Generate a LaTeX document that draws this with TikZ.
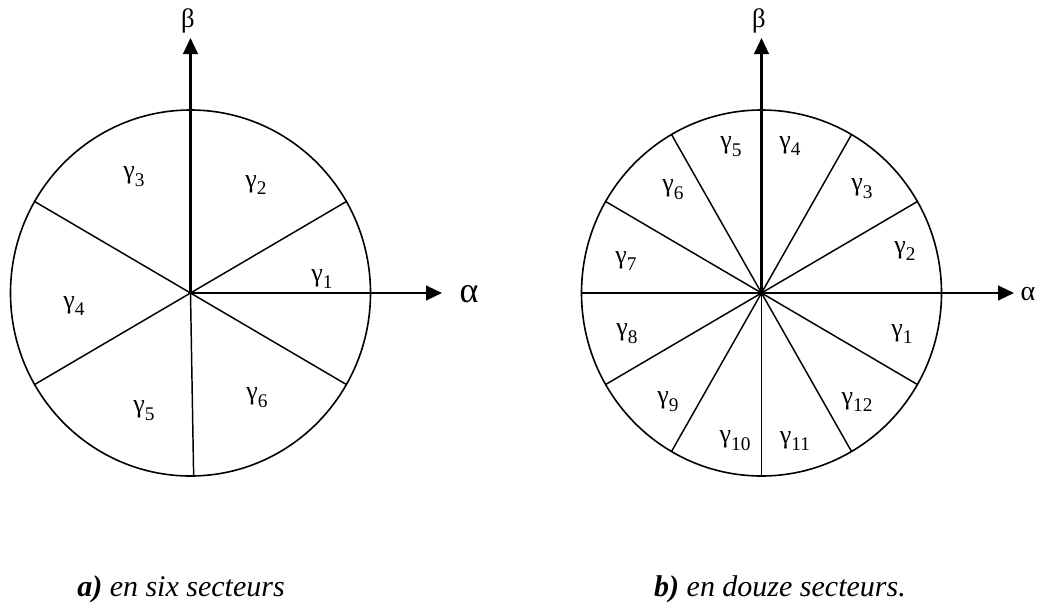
\documentclass[tikz,border=0pt]{standalone}
\usepackage{fontspec}
\setmainfont{Liberation Serif}
\usetikzlibrary{arrows.meta,calc}
\newcommand\gsub[1]{γ\raisebox{-0.3em}{\fontsize{14.5}{14.5}\selectfont #1}}
\tikzset{
  rim/.style={line width=1.2pt},
  sector/.style={line width=1.1pt},
  axis/.style={line width=1.7pt,-{Triangle[length=12pt,width=11pt]}},
  glab/.style={font=\fontsize{19.5}{19.5}\selectfont, inner sep=0pt},
  caption/.style={font=\fontsize{22.5}{22.5}\selectfont, anchor=base, inner sep=0pt}
}
\begin{document}
\begin{tikzpicture}[x=0.75pt,y=-0.75pt]
\useasboundingbox (0,0) rectangle (1041,603);
% ---------- left: six sectors ----------
\coordinate (O1) at (190.5,293);
\draw[rim] (O1) ellipse [x radius=180, y radius=183];
\foreach \a/\n in {30/a,150/b,210/c,330/d,271/e}
  \draw[sector] (O1) -- ($(O1)+(-\a:180 and 183)$) coordinate (L\n);
\coordinate (A1) at (442,293);
\coordinate (B1) at (190.5,38);
\draw[axis] (O1) -- (A1);
\draw[axis] (O1) -- (B1);
\node[font=\fontsize{27}{27}\selectfont, inner sep=0pt] (alpha1) at (469,294) {α};
\node[font=\fontsize{20}{20}\selectfont, inner sep=0pt] (beta1) at (188,21) {β};
\node[glab] (g11) at (322,279) {\gsub{1}};
\node[glab] (g12) at (256,185) {\gsub{2}};
\node[glab] (g13) at (134,177) {\gsub{3}};
\node[glab] (g14) at (74,306) {\gsub{4}};
\node[glab] (g15) at (144,411) {\gsub{5}};
\node[glab] (g16) at (257,398) {\gsub{6}};
\node[caption] (capa) at (181,596) {\textbf{\textit{a)}} \textit{en six secteurs}};
% ---------- right: twelve sectors ----------
\coordinate (O2) at (761.5,293);
\draw[rim] (O2) ellipse [x radius=180, y radius=183];
\foreach \a in {30,60,120,150,180,210,240,270,300,330}
  \draw[sector] (O2) -- ($(O2)+(-\a:180 and 183)$);
\coordinate (A2) at (1014,293);
\coordinate (B2) at (761.5,38);
\draw[axis] (O2) -- (A2);
\draw[axis] (O2) -- (B2);
\node[font=\fontsize{21}{21}\selectfont, inner sep=0pt] (alpha2) at (1028,294) {α};
\node[font=\fontsize{20}{20}\selectfont, inner sep=0pt] (beta2) at (759,21) {β};
\node[glab] (g21) at (902,334) {\gsub{1}};
\node[glab] (g22) at (905,251) {\gsub{2}};
\node[glab] (g23) at (862,189) {\gsub{3}};
\node[glab] (g24) at (790,146) {\gsub{4}};
\node[glab] (g25) at (731,147) {\gsub{5}};
\node[glab] (g26) at (673,190) {\gsub{6}};
\node[glab] (g27) at (626,261) {\gsub{7}};
\node[glab] (g28) at (627,334) {\gsub{8}};
\node[glab] (g29) at (668,402) {\gsub{9}};
\node[glab] (g210) at (735,441) {\gsub{10}};
\node[glab] (g211) at (795,441) {\gsub{11}};
\node[glab] (g212) at (857,402) {\gsub{12}};
\node[caption] (capb) at (780,596) {\textbf{\textit{b)}} \textit{en douze secteurs.}};
\end{tikzpicture}
\end{document}
